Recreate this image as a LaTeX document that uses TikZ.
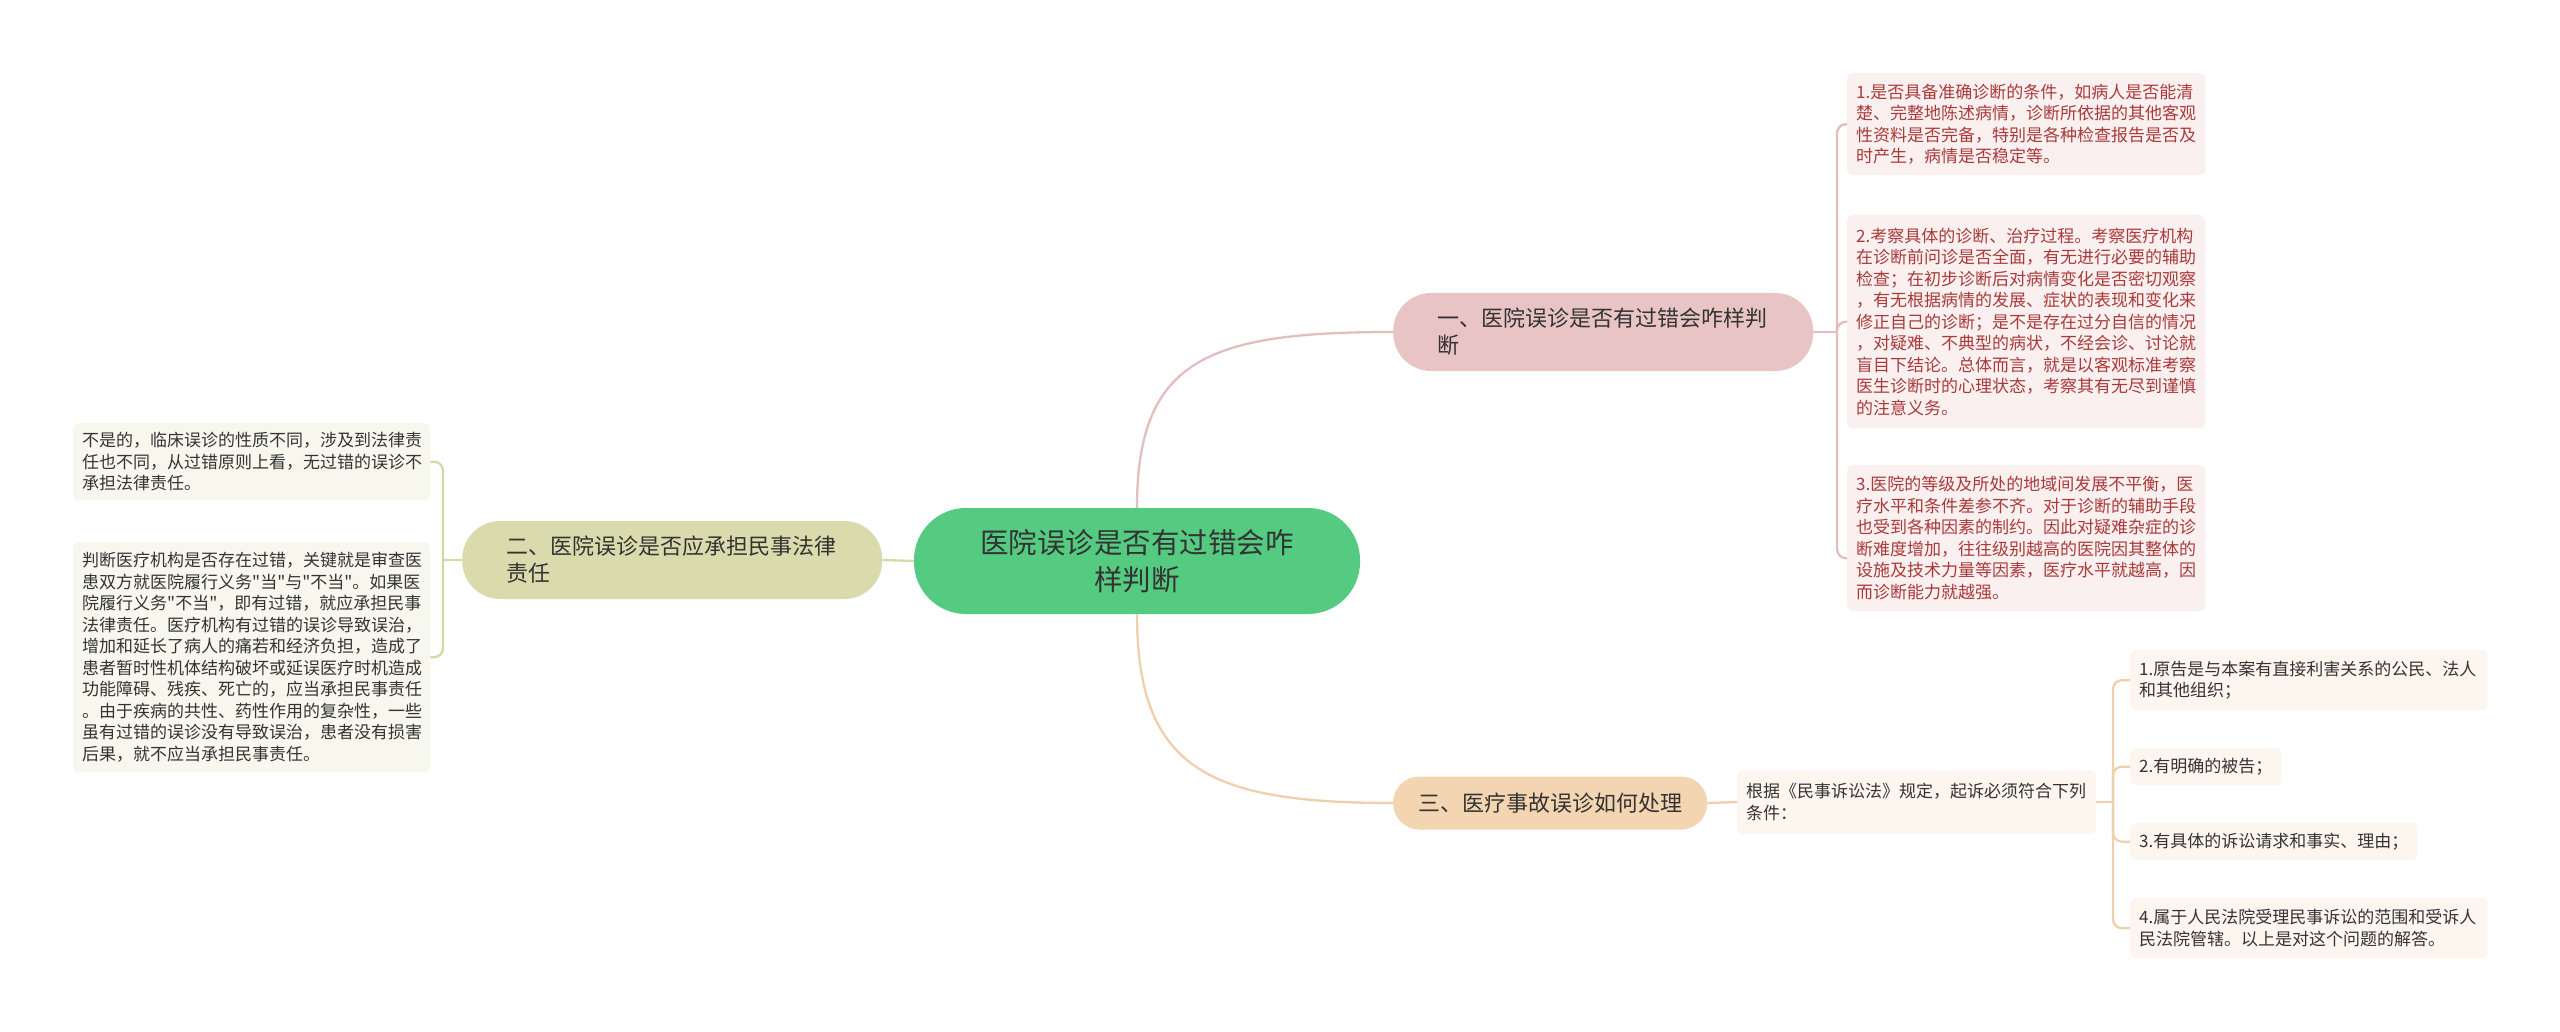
\documentclass[tikz,border=0pt]{standalone}
\usepackage{fontspec}
\setmainfont{Noto Sans CJK SC}
\newfontfamily\rawfont{Noto Sans CJK SC}[Ligatures=ResetAll]
\usepackage{xcolor}
\usepackage{tikz}

\definecolor{rootfill}{RGB}{84,203,128}
\definecolor{pinkfill}{RGB}{232,196,196}
\definecolor{olivefill}{RGB}{217,219,172}
\definecolor{peachfill}{RGB}{243,213,177}
\definecolor{pinkleaf}{RGB}{250,240,240}
\definecolor{oliveleaf}{RGB}{247,247,238}
\definecolor{peachleaf}{RGB}{253,246,239}
\definecolor{pinktext}{RGB}{170,58,58}
\definecolor{darktext}{RGB}{51,51,51}
\definecolor{pinkline}{RGB}{226,190,190}
\definecolor{oliveline}{RGB}{214,217,166}
\definecolor{peachline}{RGB}{239,208,172}

\newcommand{\sq}{{\rawfont\symbol{34}}}

\begin{document}
\begin{tikzpicture}[
  x=1pt, y=-1pt,
  root/.style={fill=rootfill, text=darktext, rounded corners=52pt,
               minimum height=106pt, text width=330pt, inner xsep=58pt,
               align=center, font=\fontsize{28.5}{37}\selectfont},
  topic/.style={text=darktext, rounded corners=38pt, minimum height=78pt,
                text width=332pt, inner xsep=44pt, align=left,
                font=\fontsize{22}{27}\selectfont},
  topicone/.style={text=darktext, fill=peachfill, rounded corners=26pt,
                   minimum height=53pt, inner xsep=25pt,
                   font=\fontsize{22}{27}\selectfont},
  pleaf/.style={fill=pinkleaf, text=pinktext, rounded corners=6pt,
                text width=340pt, inner xsep=9pt, align=left,
                font=\fontsize{17}{21.5}\selectfont},
  oleaf/.style={fill=oliveleaf, text=darktext, rounded corners=6pt,
                text width=339pt, inner xsep=9pt, align=left,
                font=\fontsize{17}{21.5}\selectfont},
  cleaf/.style={fill=peachleaf, text=darktext, rounded corners=6pt,
                inner xsep=9pt, align=left,
                font=\fontsize{17}{21.5}\selectfont},
  link/.style={line width=2.3pt},
]
  \path[fill=white] (0,0) rectangle (2560,1032);
  \useasboundingbox (0,0) rectangle (2560,1032);

  % Root and the three topics
  \node[root] (root) at (1137,561) {医院误诊是否有过错会咋\\样判断};
  \node[topic, fill=pinkfill, anchor=west] (t1) at (1393,332)
    {一、医院误诊是否有过错会咋样判\\断};
  \node[topic, fill=olivefill, anchor=west] (t2) at (462,560)
    {二、医院误诊是否应承担民事法律\\责任};
  \node[topicone, anchor=west] (t3) at (1393,803) {三、医疗事故误诊如何处理};

  % Leaves of topic one
  \node[pleaf, anchor=north west, minimum height=102pt] (p1) at (1847,73)
    {1.是否具备准确诊断的条件，如病人是否能清\\
     楚、完整地陈述病情，诊断所依据的其他客观\\
     性资料是否完备，特别是各种检查报告是否及\\
     时产生，病情是否稳定等。};
  \node[pleaf, anchor=north west, minimum height=213pt] (p2) at (1847,215)
    {2.考察具体的诊断、治疗过程。考察医疗机构\\
     在诊断前问诊是否全面，有无进行必要的辅助\\
     检查；在初步诊断后对病情变化是否密切观察\\
     ，有无根据病情的发展、症状的表现和变化来\\
     修正自己的诊断；是不是存在过分自信的情况\\
     ，对疑难、不典型的病状，不经会诊、讨论就\\
     盲目下结论。总体而言，就是以客观标准考察\\
     医生诊断时的心理状态，考察其有无尽到谨慎\\
     的注意义务。};
  \node[pleaf, anchor=north west, minimum height=146pt] (p3) at (1847,465)
    {3.医院的等级及所处的地域间发展不平衡，医\\
     疗水平和条件差参不齐。对于诊断的辅助手段\\
     也受到各种因素的制约。因此对疑难杂症的诊\\
     断难度增加，往往级别越高的医院因其整体的\\
     设施及技术力量等因素，医疗水平就越高，因\\
     而诊断能力就越强。};

  % Leaves of topic two
  \node[oleaf, anchor=north west, minimum height=77pt] (o1) at (73,423)
    {不是的，临床误诊的性质不同，涉及到法律责\\
     任也不同，从过错原则上看，无过错的误诊不\\
     承担法律责任。};
  \node[oleaf, anchor=north west, minimum height=230pt] (o2) at (73,542)
    {判断医疗机构是否存在过错，关键就是审查医\\
     患双方就医院履行义务\sq 当\sq 与\sq 不当\sq 。如果医\\
     院履行义务\sq 不当\sq ，即有过错，就应承担民事\\
     法律责任。医疗机构有过错的误诊导致误治，\\
     增加和延长了病人的痛若和经济负担，造成了\\
     患者暂时性机体结构破坏或延误医疗时机造成\\
     功能障碍、残疾、死亡的，应当承担民事责任\\
     。由于疾病的共性、药性作用的复杂性，一些\\
     虽有过错的误诊没有导致误治，患者没有损害\\
     后果，就不应当承担民事责任。};

  % Topic three: one child, four grandchildren
  \node[cleaf, text width=341pt, anchor=west, minimum height=63pt] (c0) at (1737,802)
    {根据《民事诉讼法》规定，起诉必须符合下列\\条件：};
  \node[cleaf, text width=339pt, anchor=north west, minimum height=60pt] (g1) at (2130,650)
    {1.原告是与本案有直接利害关系的公民、法人\\和其他组织；};
  \node[cleaf, anchor=north west, minimum height=37pt] (g2) at (2130,748)
    {2.有明确的被告；};
  \node[cleaf, anchor=north west, minimum height=37pt] (g3) at (2130,823)
    {3.有具体的诉讼请求和事实、理由；};
  \node[cleaf, text width=339pt, anchor=north west, minimum height=60pt] (g4) at (2130,898)
    {4.属于人民法院受理民事诉讼的范围和受诉人\\民法院管辖。以上是对这个问题的解答。};

  % Root to topics
  \draw[link, pinkline] (root.north) .. controls (1137,359) and (1208,332) .. (t1.west);
  \draw[link, peachline] (root.south) .. controls (1137,770) and (1210,803) .. (t3.west);
  \draw[link, oliveline] (root.west) -- (t2.east);

  % Topic one spine
  \coordinate (s1) at (1837,332);
  \draw[link, pinkline] (t1.east) -- (s1);
  \draw[link, pinkline, rounded corners=9pt] (s1) |- (p1.west);
  \draw[link, pinkline, rounded corners=9pt] (s1) |- (p2.west);
  \draw[link, pinkline, rounded corners=9pt] (s1) |- ([yshift=-20pt]p3.west);

  % Topic two spine
  \coordinate (s2) at (443,560);
  \draw[link, oliveline] (t2.west) -- (s2);
  \draw[link, oliveline, rounded corners=9pt] (s2) |- (o1.east);
  \draw[link, oliveline, rounded corners=9pt] (s2) |- (o2.east);

  % Topic three spine
  \draw[link, peachline] (t3.east) -- (c0.west);
  \coordinate (s3) at (2113,802);
  \draw[link, peachline] (c0.east) -- (s3);
  \foreach \g in {g1,g2,g3,g4}
    \draw[link, peachline, rounded corners=9pt] (s3) |- (\g.west);
\end{tikzpicture}
\end{document}
